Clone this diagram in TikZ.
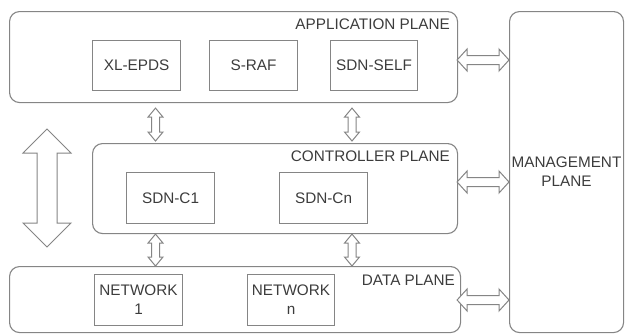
\documentclass[tikz,border=0pt]{standalone}
\usepackage{fontspec}
\setmainfont{Liberation Sans}
\usetikzlibrary{calc}
\definecolor{edge}{HTML}{858585}
\definecolor{ink}{HTML}{3c3c3c}
\tikzset{
  plane/.style={draw=edge, line width=1.1pt, rounded corners=10pt, anchor=north west, inner sep=0pt},
  unit/.style={draw=edge, line width=1.1pt, anchor=north west, inner sep=0pt, text=ink, align=center},
  tag/.style={text=ink, inner sep=0pt, anchor=east},
  fat/.style={draw=edge, line width=1pt, fill=white, line join=miter},
}
% vertical hollow double arrow: half head width, half shaft width, head length, top tip, bottom tip
\newcommand\vdarrow[5]{%
  \draw[fat] let \p1=(#4), \p2=(#5) in
    (\x1,\y1) -- (\x1+#1pt,\y1-#3pt) -- (\x1+#2pt,\y1-#3pt) -- (\x1+#2pt,\y2+#3pt)
    -- (\x1+#1pt,\y2+#3pt) -- (\x1,\y2) -- (\x1-#1pt,\y2+#3pt) -- (\x1-#2pt,\y2+#3pt)
    -- (\x1-#2pt,\y1-#3pt) -- (\x1-#1pt,\y1-#3pt) -- cycle;}
% horizontal hollow double arrow: half head width, half shaft width, head length, left tip, right end (x only)
\newcommand\hdarrow[5]{%
  \draw[fat] let \p1=(#4), \p2=(#5) in
    (\x1,\y1) -- (\x1+#3pt,\y1+#1pt) -- (\x1+#3pt,\y1+#2pt) -- (\x2-#3pt,\y1+#2pt)
    -- (\x2-#3pt,\y1+#1pt) -- (\x2,\y1) -- (\x2-#3pt,\y1-#1pt) -- (\x2-#3pt,\y1-#2pt)
    -- (\x1+#3pt,\y1-#2pt) -- (\x1+#3pt,\y1-#1pt) -- cycle;}
\begin{document}
\begin{tikzpicture}[x=1pt, y=-1pt, font=\fontsize{15.3}{19}\selectfont]
\useasboundingbox (0,0) rectangle (625,333);

% planes
\node[plane, minimum width=448pt, minimum height=91pt] (app) at (9,11) {};
\node[plane, minimum width=365pt, minimum height=90pt] (ctrl) at (92,143) {};
\node[plane, minimum width=451pt, minimum height=66pt] (data) at (9,266) {};
\node[plane, minimum width=114pt, minimum height=321pt] (mgmt) at (509,11) {};

\node[tag] (applbl) at ($(app.north east)+(-8,13)$) {APPLICATION PLANE};
\node[tag] (ctrllbl) at ($(ctrl.north east)+(-8,13)$) {CONTROLLER PLANE};
\node[tag] (datalbl) at ($(data.north east)+(-6,14)$) {DATA PLANE};
\node[text=ink, align=center, inner sep=0pt] (mgmtlbl) at (mgmt.center) {MANAGEMENT\\PLANE};

% components
\node[unit, minimum width=88pt, minimum height=50pt] (xl) at (92,40) {};
\node[text=ink] at (xl.center) {XL-EPDS};
\node[unit, minimum width=88pt, minimum height=50pt] (sraf) at (209,40) {};
\node[text=ink] at (sraf.center) {S-RAF};
\node[unit, minimum width=87pt, minimum height=50pt] (self) at (330,40) {};
\node[text=ink] at (self.center) {SDN-SELF};

\node[unit, minimum width=88pt, minimum height=51pt] (c1) at (126,172) {};
\node[text=ink] at (c1.center) {SDN-C1};
\node[unit, minimum width=88pt, minimum height=51pt] (cn) at (279,172) {};
\node[text=ink] at (cn.center) {SDN-Cn};

\node[unit, minimum width=88pt, minimum height=51pt] (net1) at (94,274) {};
\node[text=ink, align=center] at (net1.center) {NETWORK\\1};
\node[unit, minimum width=87pt, minimum height=51pt] (netn) at (247,274) {};
\node[text=ink, align=center] at (netn.center) {NETWORK\\n};

% links between planes
\vdarrow{7.5}{4}{9}{$(app.south west)+(146.5,5)$}{$(ctrl.north west)+(63.5,-2)$}
\vdarrow{7.5}{4}{9}{$(app.south west)+(343,5)$}{$(ctrl.north west)+(260,-2)$}
\vdarrow{7.5}{4}{9}{$(ctrl.south west)+(63.5,0)$}{$(data.north west)+(146.5,0)$}
\vdarrow{7.5}{4}{9}{$(ctrl.south west)+(260,0)$}{$(data.north west)+(343,0)$}

\hdarrow{11}{4.5}{10}{$(app.north east)+(-1,49)$}{mgmt.west}
\hdarrow{11}{4.5}{10}{$(ctrl.north east)+(-1,39)$}{mgmt.west}
\hdarrow{11}{4.5}{10}{$(data.north east)+(-4,34)$}{mgmt.west}

% overall up/down flow
\coordinate (flowtop) at (47,129);
\coordinate (flowbot) at (47,247);
\vdarrow{24}{10}{24}{flowtop}{flowbot}
\end{tikzpicture}
\end{document}
